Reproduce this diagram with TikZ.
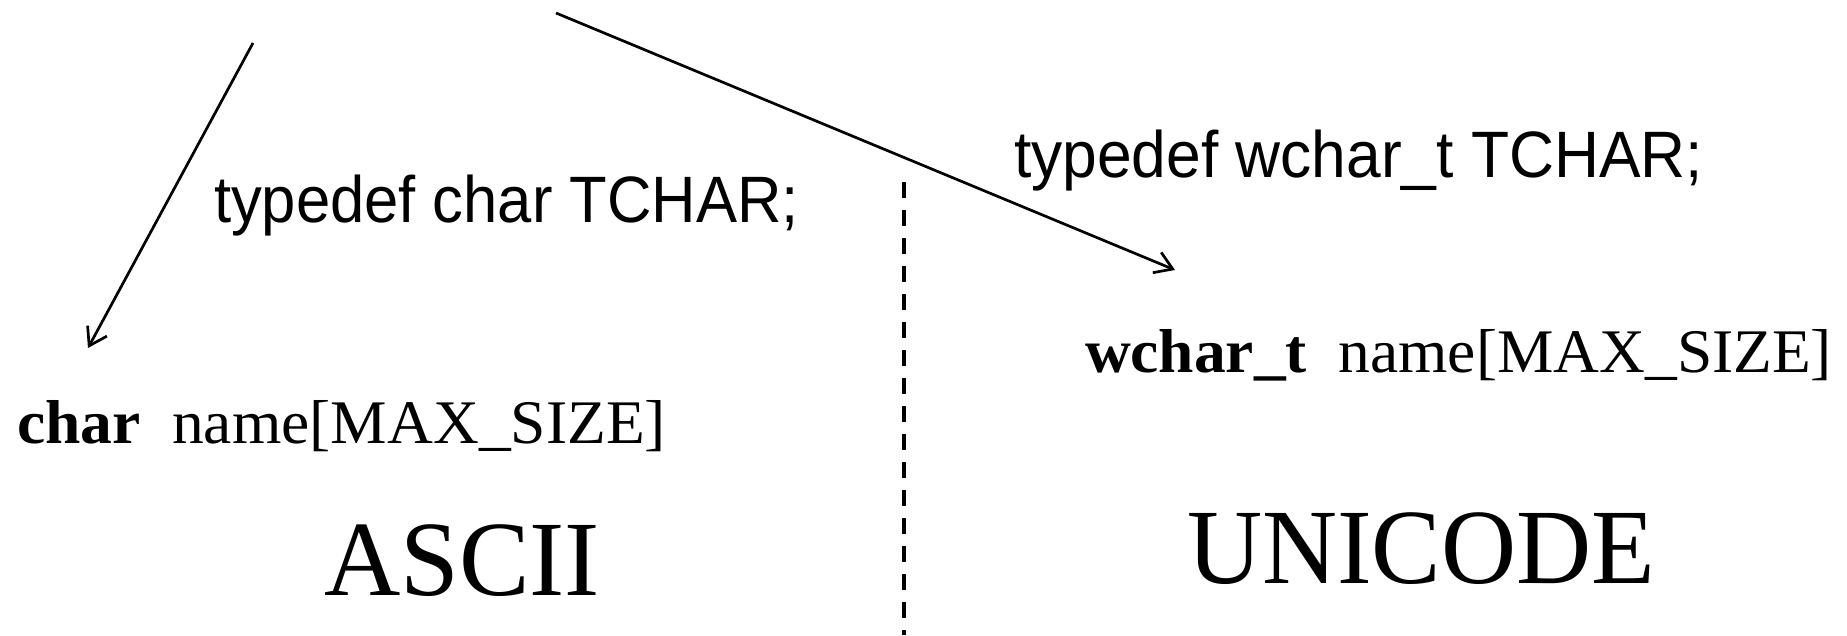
\documentclass[tikz,border=0pt]{standalone}
\usepackage{fontspec}
\setmainfont{Liberation Serif}
\newfontfamily\sansf{Liberation Sans}
\usetikzlibrary{arrows.meta}
\begin{document}
\begin{tikzpicture}[x=1pt,y=-1pt,
  lbl/.style={inner sep=0pt, outer sep=0pt, anchor=base west},
  conn/.style={line width=2.7pt, -{Straight Barb[length=17pt,width=22pt]}},
  divider/.style={line width=3.5pt, dash pattern=on 16pt off 12pt}]
\useasboundingbox (0,0) rectangle (1847,635);
% sans typedef labels
\node[lbl] (tdc) at (214,222) {\resizebox{585pt}{\height}{\sansf\fontsize{65.6}{70}\selectfont typedef char TCHAR;}};
\node[lbl] (tdw) at (1014,177) {\resizebox{689pt}{\height}{\sansf\fontsize{65.6}{70}\selectfont typedef wchar\_t TCHAR;}};
% declarations
\node[lbl] (dc) at (17,443) {\resizebox{649pt}{\height}{\fontsize{62}{66}\selectfont\textbf{char}\ \ name[MAX\_SIZE]}};
\node[lbl] (dw) at (1085,372) {\resizebox{747pt}{\height}{\fontsize{62}{66}\selectfont\textbf{wchar\_t}\ \ name[MAX\_SIZE]}};
% big labels
\node[lbl] (ascii) at (324,595) {\resizebox{276pt}{\height}{\fontsize{107}{110}\selectfont ASCII}};
\node[lbl] (uni) at (1187,583) {\resizebox{468pt}{\height}{\fontsize{107}{110}\selectfont UNICODE}};
% connectors
\coordinate (a1s) at (253,43);
\coordinate (a1e) at (88,348);
\coordinate (a2s) at (556,13);
\coordinate (a2e) at (1175,270);
\coordinate (dvt) at (904,182);
\coordinate (dvb) at (904,635);
\draw[conn] (a1s) -- (a1e);
\draw[conn] (a2s) -- (a2e);
\draw[divider] (dvt) -- (dvb);
\end{tikzpicture}
\end{document}
